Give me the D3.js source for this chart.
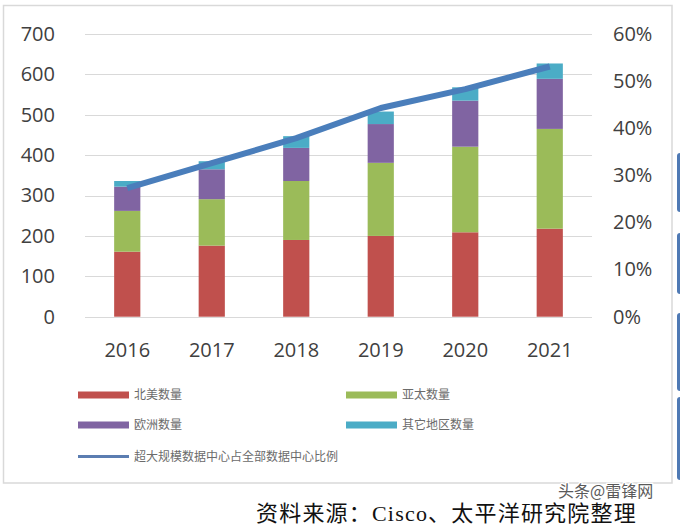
<!DOCTYPE html>
<html>
<head>
<meta charset="utf-8">
<script src="https://cdn.jsdelivr.net/npm/d3@7"></script>
<style>
  html, body { margin: 0; padding: 0; background: #fff; }
  svg { display: block; }
</style>
</head>
<body>
<div id="chart"></div>
<script>
// ---- data ----
const years = ['2016', '2017', '2018', '2019', '2020', '2021'];
const northAmerica = [161, 176, 190, 200, 209, 218];
const asiaPacific = [101, 115, 146, 181, 212, 247];
const europe = [60, 74, 82, 96, 114, 124];
const otherRegions = [14, 20, 29, 31, 33, 38];
const hyperscaleShare = [0.273, 0.326, 0.379, 0.443, 0.483, 0.531];
const leftTicks = [0, 100, 200, 300, 400, 500, 600, 700];
const rightTicks = [0, 0.1, 0.2, 0.3, 0.4, 0.5, 0.6];
const seriesNames = ['北美数量', '亚太数量', '欧洲数量', '其它地区数量'];
const lineName = '超大规模数据中心占全部数据中心比例';
const sourceText = '资料来源：Cisco、太平洋研究院整理';
const watermark = '头条@雷锋网';

const colors = ['#C0504D', '#9BBB59', '#8064A2', '#4BACC6'];
const lineColor = '#4A7EBB';

const W = 680, H = 526;
const svg = d3.select('#chart').append('svg').attr('width', W).attr('height', H);

// outer chart frame
svg.append('rect').attr('x', 3.5).attr('y', 5.5).attr('width', 668.5).attr('height', 477.5)
  .attr('fill', '#fff').attr('stroke', '#d9d9d9').attr('stroke-width', 1.5);

// decorative blue tabs at the right edge
[[153, 212], [233, 294], [313, 391], [397, 480]].forEach(([a, b]) => {
  svg.append('rect').attr('x', 677).attr('y', a).attr('width', 10).attr('height', b - a)
    .attr('rx', 3).attr('fill', '#4E79B4');
});

const x = d3.scaleBand().domain(years).range([85, 592]).paddingInner(0.69).paddingOuter(0.345);
const y = d3.scaleLinear().domain([0, 700]).range([316.7, 34]);
const y2 = d3.scaleLinear().domain([0, 0.6]).range([316.7, 34]);

// gridlines
svg.append('g').selectAll('line').data(leftTicks).join('line')
  .attr('x1', 85).attr('x2', 592)
  .attr('y1', d => Math.round(y(d)) + 0.5).attr('y2', d => Math.round(y(d)) + 0.5)
  .attr('stroke', '#d9d9d9').attr('stroke-width', 1.2);

// left axis
const axisFont = '"Open Sans", "Noto Sans", sans-serif';
const leftAxis = svg.append('g').attr('transform', 'translate(56,0)')
  .call(d3.axisLeft(y).tickValues(leftTicks).tickSize(0).tickPadding(1).tickFormat(d3.format('d')));
leftAxis.select('.domain').remove();
leftAxis.selectAll('text').attr('fill', '#404040').style('font-family', axisFont).style('font-size', '20px');

// right axis
const rightAxis = svg.append('g').attr('transform', 'translate(613,0)')
  .call(d3.axisRight(y2).tickValues(rightTicks).tickSize(0).tickPadding(0).tickFormat(d3.format('.0%')));
rightAxis.select('.domain').remove();
rightAxis.selectAll('text').attr('fill', '#404040').style('font-family', axisFont).style('font-size', '20px');

// bottom axis
const bottomAxis = svg.append('g').attr('transform', 'translate(0,' + 341 + ')')
  .call(d3.axisBottom(x).tickSize(0).tickPadding(2));
bottomAxis.select('.domain').remove();
bottomAxis.selectAll('text').attr('fill', '#404040').style('font-family', axisFont).style('font-size', '20px');

// stacked bars
const rows = years.map((yr, i) => ({
  year: yr, s0: northAmerica[i], s1: asiaPacific[i], s2: europe[i], s3: otherRegions[i]
}));
const stack = d3.stack().keys(['s0', 's1', 's2', 's3'])(rows);
svg.append('g').selectAll('g').data(stack).join('g')
  .attr('fill', (d, i) => colors[i])
  .selectAll('rect').data(d => d).join('rect')
  .attr('x', d => x(d.data.year))
  .attr('width', x.bandwidth())
  .attr('y', d => y(d[1]))
  .attr('height', d => y(d[0]) - y(d[1]));

// line
const line = d3.line().x((d, i) => x(years[i]) + x.bandwidth() / 2).y(d => y2(d));
svg.append('path').datum(hyperscaleShare).attr('d', line)
  .attr('fill', 'none').attr('stroke', lineColor).attr('stroke-width', 6)
  .attr('stroke-linejoin', 'round');

// legend
const legFont = '"Noto Sans CJK SC", sans-serif';
const legendItems = [
  { name: seriesNames[0], color: colors[0], x: 78, y: 395 },
  { name: seriesNames[1], color: colors[1], x: 346, y: 395 },
  { name: seriesNames[2], color: colors[2], x: 78, y: 425 },
  { name: seriesNames[3], color: colors[3], x: 346, y: 425 }
];
const lg = svg.append('g');
legendItems.forEach(it => {
  lg.append('rect').attr('x', it.x).attr('y', it.y - 3.5).attr('width', 51).attr('height', 7).attr('fill', it.color);
  lg.append('text').attr('x', it.x + 56).attr('y', it.y).attr('dy', '0.36em')
    .attr('fill', '#6b6b6b').style('font-family', legFont).style('font-size', '12px').text(it.name);
});
lg.append('line').attr('x1', 78).attr('x2', 129).attr('y1', 456.5).attr('y2', 456.5)
  .attr('stroke', '#5B7DB1').attr('stroke-width', 3);
lg.append('text').attr('x', 134).attr('y', 456.5).attr('dy', '0.36em')
  .attr('fill', '#6b6b6b').style('font-family', legFont).style('font-size', '12px').text(lineName);

// source text
svg.append('text').attr('x', 256).attr('y', 521)
  .attr('fill', '#111').style('font-family', '"Liberation Serif", "Noto Sans CJK SC", serif')
  .style('font-size', '22px').style('letter-spacing', '1.2px').text(sourceText);

// watermark
svg.append('text').attr('x', 558).attr('y', 497)
  .attr('fill', '#5a5a5a').attr('stroke', '#fff').attr('stroke-width', 2.5).attr('paint-order', 'stroke')
  .style('font-family', '"Noto Sans CJK SC", sans-serif').style('font-size', '16px').text(watermark);
</script>
</body>
</html>
